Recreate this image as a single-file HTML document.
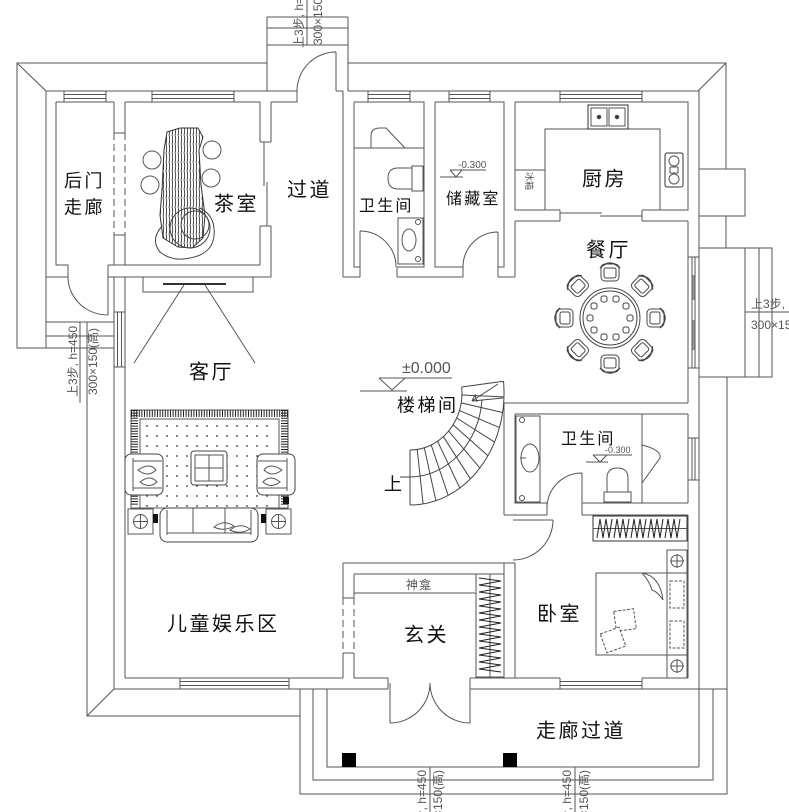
<!DOCTYPE html>
<html><head><meta charset="utf-8">
<style>
html,body{margin:0;padding:0;background:#fff;}
svg{display:block;}
.lb{font-family:"Liberation Sans","Noto Sans CJK SC",sans-serif;font-size:20px;letter-spacing:2.5px;fill:#111;}
.md{font-family:"Liberation Sans","Noto Sans CJK SC",sans-serif;font-size:18px;letter-spacing:2.5px;fill:#111;}
.ms{font-family:"Liberation Sans","Noto Sans CJK SC",sans-serif;font-size:16px;letter-spacing:2.2px;fill:#111;}
.sm{font-family:"Liberation Sans","Noto Sans CJK SC",sans-serif;fill:#555;}
</style></head><body>
<svg width="789" height="812" viewBox="0 0 789 812" xmlns="http://www.w3.org/2000/svg">
<defs>
<pattern id="dots" width="10" height="10" patternUnits="userSpaceOnUse" x="143" y="422"><circle cx="4" cy="4" r="0.9" fill="#333"/></pattern>
<pattern id="wood" width="3" height="9" patternUnits="userSpaceOnUse"><path d="M1 0 Q2.4 4.5 1 9" stroke="#222" stroke-width="0.8" fill="none"/></pattern>
<g id="chair" stroke="#444" fill="none" stroke-width="1">
<rect x="-9" y="-9" width="18" height="17" rx="4" fill="#fff"/>
<rect x="-6" y="-5" width="12" height="10" rx="2"/>
<path d="M-10 -5 Q0 -15 10 -5" stroke-width="1.5"/>
</g>
</defs>

<g fill="none" stroke="#555" stroke-width="1">
<!-- eave / outer outlines -->
<path d="M267 63H17V348H46 M17 63L46 91 M348 63H726V169 M726 216V248 M726 63L698 91 M727 377V794H300V689 M87 322V716H300 M87 716L114 689 M313 689V780H713V689 M327 689V767H699"/>
<!-- building outer face -->
<path d="M46 91H267 M348 91H699V767 M46 91V348 M114 277V689H388 M470 689H727"/>
<!-- top step box -->
<path d="M267 17V91 M348 17V91 M267 17H348 M267 28H348 M267 45H348 M307 0V45"/>
<!-- left step box -->
<path d="M46 322H114 M46 336H114 M46 348H114 M80 322V403"/>
<!-- right step box + chimney -->
<path d="M699 248H772V377H699 M745 248V377 M759 248V377 M745 312H789 M699 169H745V216H699"/>
<!-- terrace bottom dims -->
<path d="M430 767V812 M575 767V812"/>

<!-- interior walls -->
<path d="M56 102H114 M56 102V265H68V277H46 M114 102V133 M114 235V265 M125 102V133 M125 235V265 M114 133H125 M114 235H125 M108 265H260 M108 265V277 M108 277H271"/>
<path d="M125 102H260 M260 102V142 M260 226V265 M271 102V142 M271 226V277 M260 142H271 M260 226H271"/>
<path d="M267 91H297V102H271 M336 91H343 M343 91V277"/>
<path d="M354 102H424V267H397 M360 267H354V102 M435 102H504V267H498 M463 267H435V102"/>
<path d="M343 277H360 M397 277H463 M498 277H515 M360 267V277 M397 267V277 M463 267V277 M498 267V277"/>
<path d="M515 102H688V210H642 M560 210H515V102 M515 221H560 M642 221H688 M560 210V221 M642 210V221 M515 221V277"/>
<path d="M688 221V403 M504 403H688 M504 403V515 M515 414H688 M515 414V503H547 M582 503H688 M504 515H547 M582 515H688 M547 503V515 M582 503V515 M642 414V503 M688 414V503 M688 515V678"/>
<path d="M515 563V678 M504 563V678 M343 563H515 M354 574H504 M354 574V598 M354 653V678H388 M470 678H560 M642 678H688 M343 563V598 M343 653V678 M343 598H354 M343 653H354 M125 678H343 M388 678V689 M470 678V689 M125 277V678"/>
<!-- dashed openings -->
<path d="M114 133V235 M125 133V235 M343 598V653 M354 598V653" stroke-dasharray="7 4"/>
<!-- sliding door tea room -->
<path d="M264 142V186 M267 182V226"/>
<!-- kitchen sliding -->
<path d="M560 213H602 M600 216H642"/>

<!-- windows -->
<path d="M64 91V102 M106 91V102 M64 94.5H106 M64 98.5H106
M152 91V102 M234 91V102 M152 94.5H234 M152 98.5H234
M368 91V102 M410 91V102 M368 94.5H410 M368 98.5H410
M449 91V102 M490 91V102 M449 94.5H490 M449 98.5H490
M560 91V102 M642 91V102 M560 94.5H642 M560 98.5H642
M180 678V689 M289 678V689 M180 681.5H289 M180 685.5H289
M560 678V689 M642 678V689 M560 681.5H642 M560 685.5H642
M114 312H125 M114 367H125 M117.5 312V367 M121.5 312V367
M688 257H699 M688 368H699 M692 257V368 M695 257V368
M688 438H699 M688 480H699 M692 438V480 M695 438V480"/>
<path d="M693.5 275V300 M693.5 320V350" stroke="#999" stroke-width="2"/>

<!-- doors -->
<path d="M336 52V91 M297 91A39 39 0 0 1 336 52"/>
<path d="M108 277V315 M68 277A40 38 0 0 0 108 315"/>
<path d="M360 267V231 M360 231A36 36 0 0 1 396 267"/>
<path d="M498 267V232 M498 232A35 35 0 0 0 463 267"/>
<path d="M582 508V473 M582 473A35 35 0 0 0 547 508"/>
<path d="M513 520H553 M553 520A40 40 0 0 1 513 560"/>
<path d="M390 683V723 M470 683V723 M390 723A40 40 0 0 0 430 683 M470 723A40 40 0 0 1 430 683"/>
<path d="M642 445Q662 450 660 458L642 483"/>

<!-- tea room furniture -->
<polygon points="167,132 180,128 198,128 203,137 199,150 201,185 205,215 203,238 192,248 178,247 163,238 160,215 162,190 164,150" fill="url(#wood)" stroke="#333"/>
<path d="M162 226Q150 240 160 252Q172 262 190 258Q212 254 214 236Q216 216 200 208" stroke="#444"/>
<circle cx="190" cy="228" r="20" stroke="#444"/>
<circle cx="195" cy="225" r="14" stroke="#444"/>
<circle cx="152" cy="160" r="9"/><circle cx="150" cy="185" r="9"/>
<circle cx="212" cy="150" r="9"/><circle cx="211" cy="178" r="9"/>

<!-- top bathroom -->
<path d="M354 148H424 M371 148V136Q371 128 380 128H386L405 148"/>
<path d="M412 168H398Q388 168 388 178Q388 189 398 189H412Z"/>
<rect x="412" y="166" width="11" height="25"/>
<rect x="398" y="218" width="25" height="46"/>
<ellipse cx="409" cy="240" rx="7" ry="11"/>
<circle cx="418" cy="222" r="2.5"/><circle cx="418" cy="259" r="2.5"/>

<!-- kitchen -->
<path d="M545 210V129H660V210"/>
<rect x="588" y="105" width="40" height="24" stroke="#333"/>
<rect x="591" y="108" width="16" height="18"/><rect x="609" y="108" width="16" height="18"/>
<circle cx="599" cy="117" r="1.8" fill="#333"/><circle cx="617" cy="117" r="1.8" fill="#333"/>
<rect x="665" y="153" width="18" height="34" rx="2" stroke="#333"/>
<circle cx="674" cy="161" r="5"/><circle cx="674" cy="179" r="5"/><rect x="670" y="167" width="8" height="6"/>
<rect x="515" y="170" width="30" height="40"/>

<!-- dining table -->
<circle cx="610" cy="318" r="30" stroke="#444"/>
<circle cx="610" cy="318" r="27" stroke="#444"/>
<g stroke="#444">
<rect x="627" y="315" width="6" height="6" rx="2"/><rect x="623" y="327" width="6" height="6" rx="2"/>
<rect x="613" y="334" width="6" height="6" rx="2"/><rect x="601" y="334" width="6" height="6" rx="2"/>
<rect x="591" y="327" width="6" height="6" rx="2"/><rect x="587" y="315" width="6" height="6" rx="2"/>
<rect x="591" y="303" width="6" height="6" rx="2"/><rect x="601" y="296" width="6" height="6" rx="2"/>
<rect x="613" y="296" width="6" height="6" rx="2"/><rect x="623" y="303" width="6" height="6" rx="2"/>
</g>
</g>
<use href="#chair" transform="translate(610,318) rotate(0) translate(0,-45)"/>
<use href="#chair" transform="translate(610,318) rotate(45) translate(0,-45)"/>
<use href="#chair" transform="translate(610,318) rotate(90) translate(0,-45)"/>
<use href="#chair" transform="translate(610,318) rotate(135) translate(0,-45)"/>
<use href="#chair" transform="translate(610,318) rotate(180) translate(0,-45)"/>
<use href="#chair" transform="translate(610,318) rotate(225) translate(0,-45)"/>
<use href="#chair" transform="translate(610,318) rotate(270) translate(0,-45)"/>
<use href="#chair" transform="translate(610,318) rotate(315) translate(0,-45)"/>

<g fill="none" stroke="#555" stroke-width="1">
<!-- living room -->
<path d="M143 277V292H253V277"/>
<path d="M163 284H226" stroke="#333" stroke-width="2"/>
<path d="M184 285L134 363 M205 285L255 363"/>
<rect x="131" y="410" width="157" height="98"/>
<path d="M131 413.5H288" stroke="#222" stroke-width="7" stroke-dasharray="1 1.6"/>
<path d="M134.5 410V505 M284.5 410V505" stroke="#222" stroke-width="7" stroke-dasharray="1 1.6"/>
<rect x="140" y="419" width="139" height="89"/>
<rect x="143" y="422" width="133" height="86" fill="url(#dots)" stroke="none"/>
<rect x="191" y="451" width="36" height="34" rx="3" fill="#fff" stroke="#444"/>
<rect x="195" y="455" width="28" height="26"/>
<path d="M209 455V481 M195 468H223"/>
<!-- armchairs -->
<rect x="125" y="454" width="38" height="41" rx="6" fill="#fff" stroke="#444"/>
<path d="M133 458V491 M133 461H162 M133 488H162"/>
<path d="M138 470Q150 462 156 470Q148 478 138 470Z M140 482Q150 474 157 482Q149 489 140 482Z"/>
<rect x="257" y="454" width="38" height="41" rx="6" fill="#fff" stroke="#444"/>
<path d="M287 458V491 M258 461H287 M258 488H287"/>
<path d="M282 470Q270 462 264 470Q272 478 282 470Z M280 482Q270 474 263 482Q271 489 280 482Z"/>
<!-- sofa -->
<rect x="160" y="508" width="98" height="34" rx="7" fill="#fff" stroke="#444"/>
<path d="M167 510V535 M251 510V535 M167 533H251 M193 508V533 M225 508V533"/>
<path d="M214 527Q224 519 234 526Q224 532 214 527Z M230 530Q240 522 250 529Q240 535 230 530Z"/>
<rect x="128" y="509" width="25" height="25" fill="#fff"/>
<circle cx="140.5" cy="521.5" r="7"/><path d="M133 521.5H148 M140.5 514V529"/>
<rect x="266" y="509" width="25" height="25" fill="#fff"/>
<circle cx="278.5" cy="521.5" r="7"/><path d="M271 521.5H286 M278.5 514V529"/>
<rect x="153" y="514" width="5" height="9" fill="#111" stroke="none"/>
<rect x="261" y="514" width="5" height="9" fill="#111" stroke="none"/>
<rect x="283" y="497" width="6" height="7" fill="#111" stroke="none"/>

<!-- stairs -->
<path d="M410 505A94 112 0 0 0 503.5 381.2" stroke="#444"/>
<path d="M410 450A52 57 0 0 0 461.7 387" stroke="#444"/>
<path d="M410 450L410 505 M417.2 449.4L423.1 503.9 M424.3 447.8L435.9 500.7 M431.2 445.1L448.2 495.4 M437.6 441.3L459.8 488 M443.4 436.7L470.4 478.8 M448.6 431.1L479.8 467.9 M453.1 424.9L487.9 455.6 M456.7 418L494.5 442.1 M459.5 410.6L499.4 427.6 M461.2 402.9L502.6 412.5 M462 395L503.9 396.9 M461.7 387L503.5 381.2" stroke="#444"/>
<path d="M400 477H410A73 84 0 0 0 482 400" stroke="#444"/>
<path d="M498 384L472 401L503 398 M472 401l3 -6l2 7" stroke="#444"/>

<!-- bath 2 -->
<rect x="516" y="416" width="24" height="86"/>
<ellipse cx="530" cy="458" rx="9" ry="14"/>
<circle cx="522" cy="420" r="2.5"/><circle cx="522" cy="498" r="2.5"/>
<path d="M520 458H526"/>
<path d="M607 492V478Q607 468 617.5 468Q628 468 628 478V492Z"/>
<rect x="604" y="492" width="27" height="10"/>

<!-- wardrobe -->
<rect x="593" y="516" width="94" height="25" stroke="#333"/>
<path d="M593 528.5H687"/>
<path d="M597 538L600 519L603 538L606 519L609 538L612 519 M614 538L617 519L620 538L623 519L626 538L629 519 M631 538L634 519L637 538L640 519L643 538L646 519 M648 538L651 519L654 538L657 519L660 538L663 519 M665 538L668 519L671 538L674 519L677 538L680 519" stroke="#222"/>

<!-- bedroom -->
<rect x="596" y="573" width="71" height="82"/>
<rect x="667" y="550" width="20" height="128"/>
<path d="M667 573H687 M667 655H687"/>
<circle cx="677" cy="561" r="6"/><path d="M670 561H684 M677 554V568"/>
<circle cx="677" cy="666" r="6"/><path d="M670 666H684 M677 659V673"/>
<rect x="670" y="581" width="14" height="27" stroke-dasharray="3 1.5"/>
<rect x="670" y="621" width="14" height="27" stroke-dasharray="3 1.5"/>
<path d="M642 573Q660 576 663 600 Q658 592 652 590 Q650 582 642 573"/>
<rect x="615" y="610" width="20" height="20" transform="rotate(-8 625 620)" fill="#fff" stroke-dasharray="3 1.5"/>
<rect x="603" y="630" width="20" height="20" transform="rotate(-20 613 640)" fill="#fff" stroke-dasharray="3 1.5"/>

<!-- foyer -->
<path d="M354 593H476"/>
<rect x="476" y="574" width="28" height="103"/>
<path d="M490 574V677"/>
<path d="M479 578L501 581L479 585L501 588L479 592L501 595L479 599L501 602L479 606L501 609L479 613L501 616L479 620L501 623L479 627L501 630L479 634L501 637L479 641L501 644L479 648L501 651L479 655L501 658L479 662L501 665L479 669L501 672" stroke="#222"/>

<!-- elevation marks -->
<path d="M379 378H452 M379 378L392 390L405 378 M360 391H407"/>
<path d="M450 170H486 M450 170L456 177L462 170 M440 177H463"/>
<path d="M593 455H632 M593 455L600 462L607 455 M586 462H608"/>
</g>

<!-- columns -->
<rect x="342" y="753" width="14" height="14" fill="#000"/>
<rect x="503" y="753" width="14" height="14" fill="#000"/>

<!-- labels -->
<text class="md" x="64" y="187">后门</text>
<text class="md" x="64" y="213.5">走廊</text>
<text class="lb" x="214" y="210.5">茶室</text>
<text class="lb" x="287" y="196.5">过道</text>
<text class="ms" x="359" y="211">卫生间</text>
<text class="ms" x="446" y="204">储藏室</text>
<text class="lb" x="582" y="185.5">厨房</text>
<text class="lb" x="586" y="256.5">餐厅</text>
<text class="lb" x="189" y="378.5">客厅</text>
<text class="md" x="397" y="411.5">楼梯间</text>
<text class="md" x="384" y="490.5">上</text>
<text class="ms" x="561" y="444">卫生间</text>
<text class="lb" x="167" y="630.5">儿童娱乐区</text>
<text class="lb" x="404" y="641.5">玄关</text>
<text class="lb" x="537" y="620.5">卧室</text>
<text class="lb" x="536" y="737.5">走廊过道</text>
<text class="sm" x="406" y="589" font-size="12" letter-spacing="1">神龛</text>
<text class="sm" x="526" y="181" font-size="9" transform="rotate(90 526 181)" text-anchor="middle">冰箱</text>

<text class="sm" x="402" y="373" font-size="16">±0.000</text>
<text class="sm" x="458" y="168" font-size="10">-0.300</text>
<text class="sm" x="605" y="453" font-size="9">-0.300</text>

<text class="sm" font-size="12" transform="translate(77,397) rotate(-90)">上3步, h=450</text>
<text class="sm" font-size="12" transform="translate(97,395) rotate(-90)">300×150(高)</text>
<text class="sm" font-size="12" transform="translate(303,48) rotate(-90)">上3步, h=450</text>
<text class="sm" font-size="12" transform="translate(322,45) rotate(-90)">300×150(高)</text>
<text class="sm" font-size="12" text-anchor="end" transform="translate(426,770) rotate(-90)">上3步, h=450</text>
<text class="sm" font-size="12" text-anchor="end" transform="translate(442,770) rotate(-90)">300×150(高)</text>
<text class="sm" font-size="12" text-anchor="end" transform="translate(571,770) rotate(-90)">上3步, h=450</text>
<text class="sm" font-size="12" text-anchor="end" transform="translate(588,770) rotate(-90)">300×150(高)</text>
<text class="sm" font-size="12" x="751" y="308">上3步, h=450</text>
<text class="sm" font-size="12" x="751" y="329">300×150(高)</text>
</svg>
</body></html>
